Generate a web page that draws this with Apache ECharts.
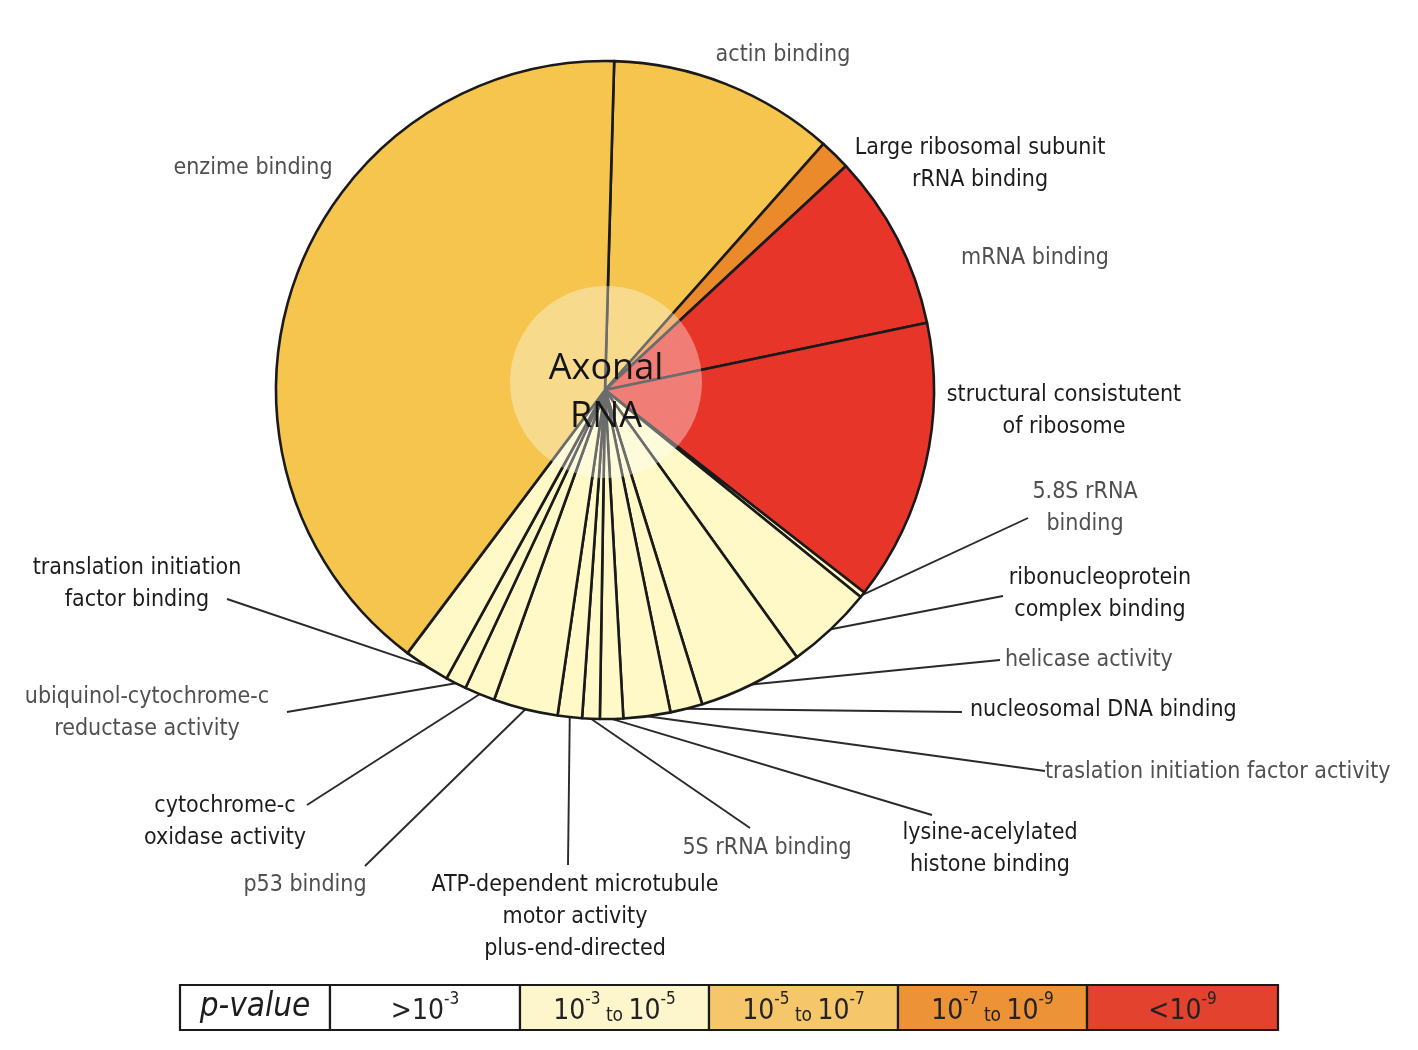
<!DOCTYPE html>
<html><head><meta charset="utf-8">
<script src="https://cdn.jsdelivr.net/npm/echarts@6/dist/echarts.min.js"></script>
<style>html,body{margin:0;padding:0;background:#fff}#c{width:1418px;height:1050px}</style>
</head><body><div id="c"></div>
<script>
// ---- data (clockwise from just right of 12 o'clock) ----
const categories = [
  'actin binding',
  'Large ribosomal subunit rRNA binding',
  'mRNA binding',
  'structural consistutent of ribosome',
  '5.8S rRNA binding',
  'ribonucleoprotein complex binding',
  'helicase activity',
  'nucleosomal DNA binding',
  'traslation initiation factor activity',
  'lysine-acelylated histone binding',
  '5S rRNA binding',
  'ATP-dependent microtubule motor activity plus-end-directed',
  'p53 binding',
  'cytochrome-c oxidase activity',
  'ubiquinol-cytochrome-c reductase activity',
  'translation initiation factor binding',
  'enzime binding'
];
// share of the pie (read as degrees of arc)
const shares = [40.0, 5.5, 31.1, 49.8, 1.0, 15.3, 18.5, 5.7, 8.3, 4.1, 3.1, 4.3, 11.4, 5.4, 3.7, 8.1, 144.7];
// p-value class index into legendLabels
const pClass = [2, 3, 4, 4, 1, 1, 1, 1, 1, 1, 1, 1, 1, 1, 1, 1, 2];
const legendLabels = ['>10^-3', '10^-3 to 10^-5', '10^-5 to 10^-7', '10^-7 to 10^-9', '<10^-9'];
const labelText = [
  'actin binding',
  'Large ribosomal subunit\nrRNA binding',
  'mRNA binding',
  'structural consistutent\nof ribosome',
  '5.8S rRNA\nbinding',
  'ribonucleoprotein\ncomplex binding',
  'helicase activity',
  'nucleosomal DNA binding',
  'traslation initiation factor activity',
  'lysine-acelylated\nhistone binding',
  '5S rRNA binding',
  'ATP-dependent microtubule\nmotor activity\nplus-end-directed',
  'p53 binding',
  'cytochrome-c\noxidase activity',
  'ubiquinol-cytochrome-c\nreductase activity',
  'translation initiation\nfactor binding',
  'enzime binding'
];

// ---- styling / layout ----
const sliceColors = ['#ffffff', '#fef9c6', '#f5c54d', '#ea8a2a', '#e8352a'];
const legendColors = ['#ffffff', '#fdf6cd', '#f6c66b', '#eb9336', '#e2422e'];
const labelPos = [
  [783, 55, 'center'], [980, 164, 'center'], [1035, 258, 'center'], [1064, 411, 'center'],
  [1085, 508, 'center'], [1100, 594, 'center'], [1005, 660, 'left'], [970, 710, 'left'],
  [1045, 772, 'left'], [990, 849, 'center'], [767, 848, 'center'], [575, 917, 'center'],
  [305, 885, 'center'], [225, 822, 'center'], [147, 713, 'center'], [137, 584, 'center'],
  [253, 168, 'center']
];
const lineEnds = [null, null, null, null,
  [1028, 518], [1003, 596], [1000, 660], [962, 712], [1045, 771], [932, 815], [750, 828],
  [568, 865], [365, 866], [307, 805], [287, 712], [227, 599], null];
const darkLabel = [false, true, false, true, false, true, false, true, false, true, false, true, false, true, false, true, false];

const FONT = "'Liberation Sans Narrow', 'DejaVu Sans Condensed', 'Roboto Condensed', 'Liberation Sans', sans-serif";

const chart = echarts.init(document.getElementById('c'), null, {renderer: 'canvas'});

const pieData = categories.map((name, i) => ({
  name: name,
  value: shares[i],
  itemStyle: {color: sliceColors[pClass[i]]},
  label: {color: darkLabel[i] ? '#1c1c1c' : '#505050'},
  labelLine: {show: lineEnds[i] != null}
}));

function legendRich(lbl) {
  const parts = lbl.split(' to ');
  const tok = p => {
    let pre = '';
    if (p[0] === '>' || p[0] === '<') { pre = p[0]; p = p.slice(1); }
    const [base, exp] = p.split('^');
    return (pre ? '{n|' + pre + '}' : '') + '{n|' + base + '}{s|' + exp + '}';
  };
  return parts.map(tok).join('{t| to }');
}

const cellX = [180, 330, 520, 709, 898, 1087, 1278];
const legendY = 985, legendH = 45;
const graphics = [];
graphics.push({type: 'circle', shape: {cx: 606, cy: 382, r: 96}, style: {fill: 'rgba(255,255,255,0.36)'}, z: 50, silent: true});
graphics.push({type: 'text', x: 606, y: 393, z: 51, silent: true,
  style: {text: 'Axonal\nRNA', font: "36px 'Open Sans', sans-serif", lineHeight: 48,
    align: 'center', verticalAlign: 'middle', fill: '#141414'}});
for (let k = 0; k < 6; k++) {
  graphics.push({type: 'rect', shape: {x: cellX[k], y: legendY, width: cellX[k + 1] - cellX[k], height: legendH},
    style: {fill: k === 0 ? '#ffffff' : legendColors[k - 1], stroke: '#1a1a1a', lineWidth: 2.2}, z: 10});
}
graphics.push({type: 'text', x: (cellX[0] + cellX[1]) / 2, y: legendY + legendH / 2, z: 11,
  style: {text: 'p-value', font: "italic 33px " + FONT, align: 'center', verticalAlign: 'middle', fill: '#1c1c1c'}});
for (let k = 0; k < 5; k++) {
  graphics.push({type: 'text', x: (cellX[k + 1] + cellX[k + 2]) / 2, y: legendY + legendH / 2 + 1, z: 11,
    style: {text: legendRich(legendLabels[k]), align: 'center', verticalAlign: 'middle',
      rich: {
        n: {fontSize: 28, fontFamily: FONT, fill: '#222', verticalAlign: 'bottom', lineHeight: 34},
        s: {fontSize: 17, fontFamily: FONT, fill: '#222', verticalAlign: 'top', lineHeight: 34},
        t: {fontSize: 19, fontFamily: FONT, fill: '#222', verticalAlign: 'bottom', lineHeight: 30}
      }}});
}

chart.setOption({
  animation: false,
  backgroundColor: '#ffffff',
  series: [{
    type: 'pie',
    center: [605, 390],
    radius: [0, 329],
    startAngle: 88.4,
    clockwise: true,
    avoidLabelOverlap: false,
    silent: true,
    itemStyle: {borderColor: '#1a1a1a', borderWidth: 2.6},
    label: {
      show: true, position: 'outside', fontFamily: FONT, fontSize: 23, lineHeight: 32,
      formatter: p => labelText[p.dataIndex]
    },
    labelLine: {show: true, length: 0, length2: 0, lineStyle: {color: '#2a2a2a', width: 1.9}},
    labelLayout: function (p) {
      const i = p.dataIndex;
      const pos = labelPos[i];
      const res = {x: pos[0], y: pos[1], align: pos[2], verticalAlign: 'middle'};
      const end = lineEnds[i];
      if (end && p.labelLinePoints) {
        const s = p.labelLinePoints[0];
        res.labelLinePoints = [s, end, end];
      }
      return res;
    },
    data: pieData
  }],
  graphic: graphics
});
</script>
</body></html>
